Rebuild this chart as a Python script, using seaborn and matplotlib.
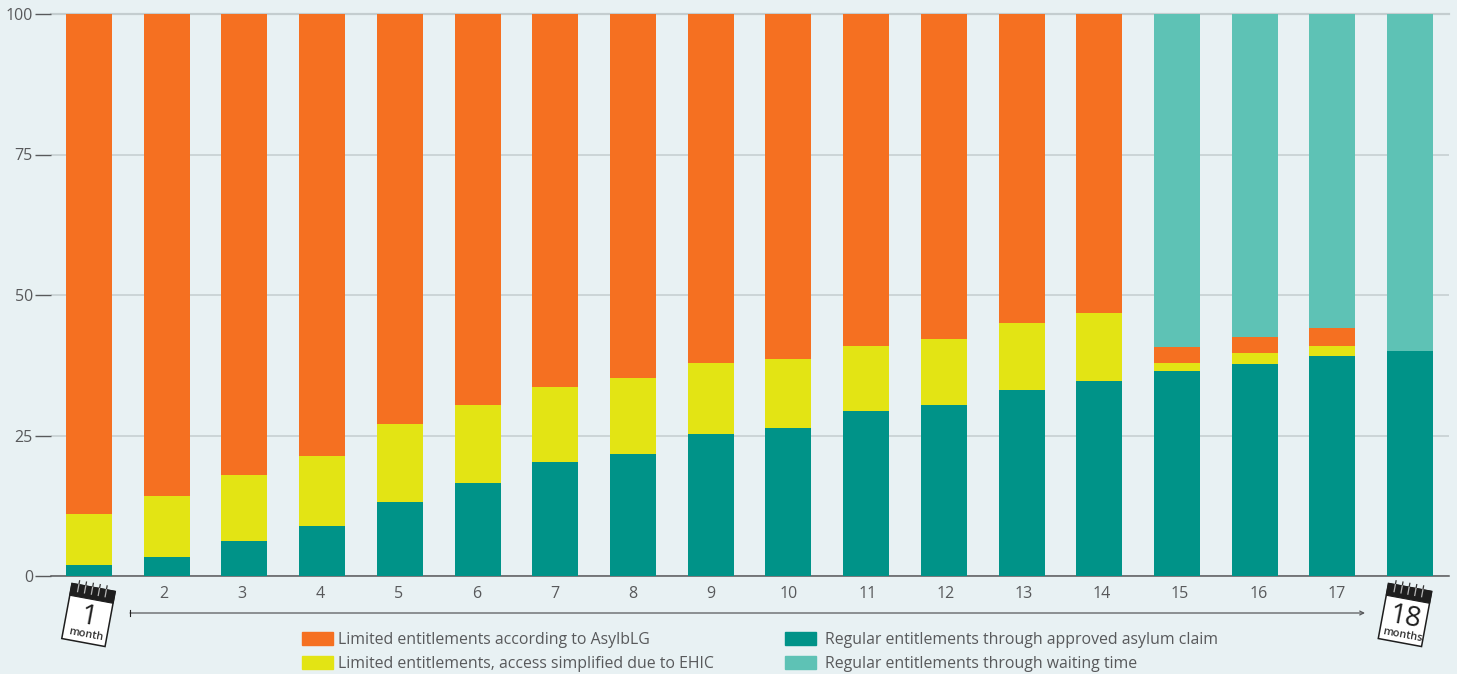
# Health care entitlements of asylum seekers by month of stay
import pandas as pd
import seaborn as sns
from matplotlib import pyplot as plt
from matplotlib.patches import Patch, Polygon, Rectangle, FancyArrowPatch
from matplotlib.lines import Line2D
from matplotlib.transforms import Affine2D, ScaledTranslation

# values (share in %, stacked from the bottom)
months = list(range(1, 19))
approved = [1.9, 3.4, 6.2, 8.9, 13.2, 16.5, 20.3, 21.7, 25.3, 26.3, 29.4, 30.4, 33.1, 34.7, 36.5, 37.7, 39.1, 40.0]
ehic = [9.1, 10.8, 11.8, 12.4, 13.8, 13.9, 13.3, 13.5, 12.6, 12.3, 11.5, 11.8, 11.9, 12.1, 1.4, 2.0, 1.9, 0.0]
asylblg = [89.0, 85.8, 82.0, 78.7, 73.0, 69.6, 66.4, 64.8, 62.1, 61.4, 59.1, 57.8, 55.0, 53.2, 2.8, 2.8, 3.1, 0.0]
waiting = [0.0, 0.0, 0.0, 0.0, 0.0, 0.0, 0.0, 0.0, 0.0, 0.0, 0.0, 0.0, 0.0, 0.0, 59.3, 57.5, 55.9, 60.0]

y_ticks = [0, 25, 50, 75, 100]
x_labels = [''] + [str(m) for m in months[1:-1]] + ['']

BG = '#E8F1F3'
ORANGE = '#F57021'
YELLOW = '#E3E414'
TEAL = '#009388'
LIGHT_TEAL = '#5EC2B5'
GREY = '#58595B'
W, H = 1457, 674

plt.rcParams['font.family'] = ['Open Sans', 'DejaVu Sans']

df = pd.DataFrame({'month': months, 'approved': approved, 'ehic': ehic,
                   'asylblg': asylblg, 'waiting': waiting})
# cumulative tops, the tallest gets drawn first so the shorter ones sit on it
df['top_approved'] = df['approved']
df['top_ehic'] = df['top_approved'] + df['ehic']
df['top_asylblg'] = df['top_ehic'] + df['asylblg']
df['top_waiting'] = df['top_asylblg'] + df['waiting']

fig = plt.figure(figsize=(W / 100, H / 100), dpi=100, facecolor=BG)
ax = fig.add_axes([51 / W, 1 - 576 / H, (1449 - 51) / W, (576 - 14) / H], facecolor=BG)


def px(x, y):
    # picture pixels to figure fraction
    return x / W, 1 - y / H


for col, color in [('top_waiting', LIGHT_TEAL), ('top_asylblg', ORANGE),
                   ('top_ehic', YELLOW), ('top_approved', TEAL)]:
    sns.barplot(data=df, x='month', y=col, color=color, width=0.592, saturation=1,
                linewidth=0, zorder=3, ax=ax)

ax.set_xlim(-0.489, 17.5)
ax.set_ylim(0, 100)
ax.set_xlabel('')
ax.set_ylabel('')
ax.set_yticks(y_ticks)
ax.set_xticks(range(len(months)))
ax.set_xticklabels(x_labels)
ax.grid(axis='y', color='#C4CDCF', linewidth=1.1, zorder=0)
ax.set_axisbelow(True)
ax.tick_params(axis='y', length=11.5, width=1, color=GREY, pad=1.5, labelsize=11.5, labelcolor=GREY)
ax.tick_params(axis='x', length=0, pad=7, labelsize=11.5, labelcolor=GREY)
sns.despine(ax=ax, left=True)
ax.spines['bottom'].set_color(GREY)
ax.spines['bottom'].set_linewidth(1.1)
ax.get_ygridlines()[-1].set_clip_on(False)
ax.get_ygridlines()[-1].set_linewidth(1.6)

# in the reference the month numbers drift a little against the bars
for i, label in enumerate(ax.get_xticklabels()):
    shift = (-3 + (i - 1) * 7 / 15) / 100
    label.set_transform(label.get_transform() + ScaledTranslation(shift, 0, fig.dpi_scale_trans))

# arrow between the two calendars
start, end = px(130, 613), px(1365, 613)
fig.add_artist(FancyArrowPatch(start, end, transform=fig.transFigure, arrowstyle='->', mutation_scale=7,
                               color=GREY, linewidth=0.9, shrinkA=0, shrinkB=0))
fig.add_artist(Line2D([start[0], start[0]], [px(0, 610)[1], px(0, 616)[1]], color='#222222', linewidth=0.8))


def calendar(cx, cy, number, unit):
    # little tear-off calendar, tilted, drawn in pixel units around its centre
    tilt = Affine2D().rotate_deg(-10.5).translate(cx, H - cy).scale(1 / W, 1 / H) + fig.transFigure
    fig.add_artist(Polygon([(-22, -28), (22, -28), (22, 28), (-22, 28)], closed=True, facecolor='white',
                           edgecolor='#1E1E1E', linewidth=1.1, transform=tilt))
    fig.add_artist(Rectangle((-22, 16), 44, 12, facecolor='#1E1E1E', edgecolor='#1E1E1E',
                             linewidth=0.8, transform=tilt))
    for rx in [-15, -8, -1, 6, 13]:
        fig.add_artist(Line2D([rx, rx], [28, 32], color='#333333', linewidth=0.9, transform=tilt))
        fig.add_artist(Line2D([rx, rx], [21, 28], color='#B5B5B5', linewidth=0.9, transform=tilt))
    x0, y0 = px(cx, cy + 3)
    fig.text(x0, y0, number, fontsize=20, color='#1E1E1E', rotation=-10.5,
             ha='center', va='center', rotation_mode='anchor')
    x1, y1 = px(cx - 3, cy + 20)
    fig.text(x1, y1, unit, fontsize=7.8, fontweight='semibold', color='#333333', rotation=-10.5,
             ha='center', va='center', rotation_mode='anchor')


calendar(88.5, 615, '1', 'month')
calendar(1405, 615, '18', 'months')

# legend, two blocks so the columns sit where they do in the reference
left_legend = fig.legend([Patch(color=ORANGE), Patch(color=YELLOW)],
                         ['Limited entitlements according to AsylbLG',
                          'Limited entitlements, access simplified due to EHIC'],
                         frameon=False, fontsize=11.4, labelcolor=GREY,
                         loc='upper left', bbox_to_anchor=px(302, 632), borderaxespad=0, borderpad=0,
                         handlelength=1.96, handleheight=0.87, handletextpad=0.3, labelspacing=0.5)
right_legend = fig.legend([Patch(color=TEAL), Patch(color=LIGHT_TEAL)],
                          ['Regular entitlements through approved asylum claim',
                           'Regular entitlements through waiting time'],
                          frameon=False, fontsize=11.4, labelcolor=GREY,
                          loc='upper left', bbox_to_anchor=px(785, 632), borderaxespad=0, borderpad=0,
                          handlelength=1.96, handleheight=0.87, handletextpad=0.55, labelspacing=0.5)

fig.savefig('out.png', dpi=100, facecolor=BG)
